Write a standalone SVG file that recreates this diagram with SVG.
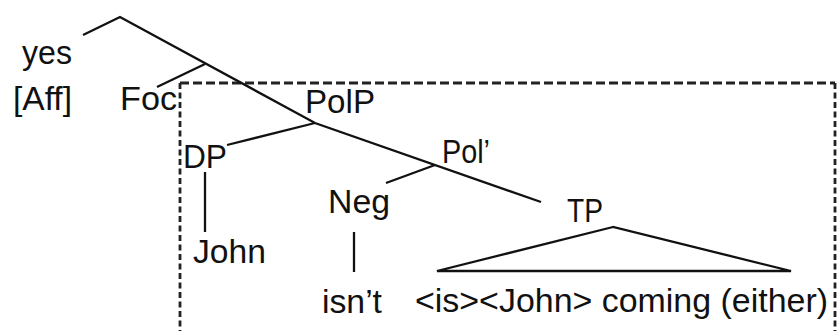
<svg xmlns="http://www.w3.org/2000/svg" width="837" height="331" viewBox="0 0 837 331">
<style>
text{font-family:"Liberation Sans",Arial,sans-serif;font-size:34px;fill:#111}
.e{stroke:#111;stroke-width:2.3;fill:none;stroke-linecap:butt}
.dh{stroke:#222;stroke-width:3;fill:none;stroke-dasharray:9 4}
.dv{stroke:#222;stroke-width:2.8;fill:none;stroke-dasharray:6 3.5}
</style>
<rect width="837" height="331" fill="#fff"/>
<g id="box">
<line class="dh" x1="180" y1="83" x2="835" y2="83"/>
<line class="dv" x1="180" y1="83" x2="180" y2="331"/>
<line class="dv" x1="835" y1="83" x2="835" y2="331"/>
</g>
<g id="connectors">
<polyline class="e" points="83,35 120,17 315,123 541,202"/>
<line class="e" x1="205" y1="64" x2="157" y2="87"/>
<line class="e" x1="315" y1="123" x2="227" y2="145"/>
<line class="e" x1="435" y1="165" x2="386" y2="183"/>
<line class="e" x1="205" y1="172" x2="205" y2="232"/>
<line class="e" x1="354" y1="232" x2="354" y2="272"/>
<polygon class="e" points="613,227 437,271 791,271"/>
</g>
<g id="yes"><text x="22" y="64" textLength="50" lengthAdjust="spacingAndGlyphs">yes</text></g>
<g id="aff"><text x="13" y="110" textLength="59" lengthAdjust="spacingAndGlyphs">[Aff]</text></g>
<g id="foc"><text x="120" y="110" textLength="57" lengthAdjust="spacingAndGlyphs">Foc</text></g>
<g id="polp"><text x="305" y="113" textLength="70" lengthAdjust="spacingAndGlyphs">PolP</text></g>
<g id="dp"><text x="183" y="168" textLength="44" lengthAdjust="spacingAndGlyphs">DP</text></g>
<g id="polbar"><text x="442" y="163" textLength="48" lengthAdjust="spacingAndGlyphs">Pol’</text></g>
<g id="neg"><text x="328" y="213" textLength="62" lengthAdjust="spacingAndGlyphs">Neg</text></g>
<g id="tp"><text x="567" y="222" textLength="36" lengthAdjust="spacingAndGlyphs">TP</text></g>
<g id="john"><text x="193" y="263" textLength="73" lengthAdjust="spacingAndGlyphs">John</text></g>
<g id="isnt"><text x="322" y="313" textLength="60" lengthAdjust="spacingAndGlyphs">isn’t</text></g>
<g id="tpcontent"><text x="415" y="312" textLength="413" lengthAdjust="spacingAndGlyphs">&lt;is&gt;&lt;John&gt; coming (either)</text></g>
</svg>
